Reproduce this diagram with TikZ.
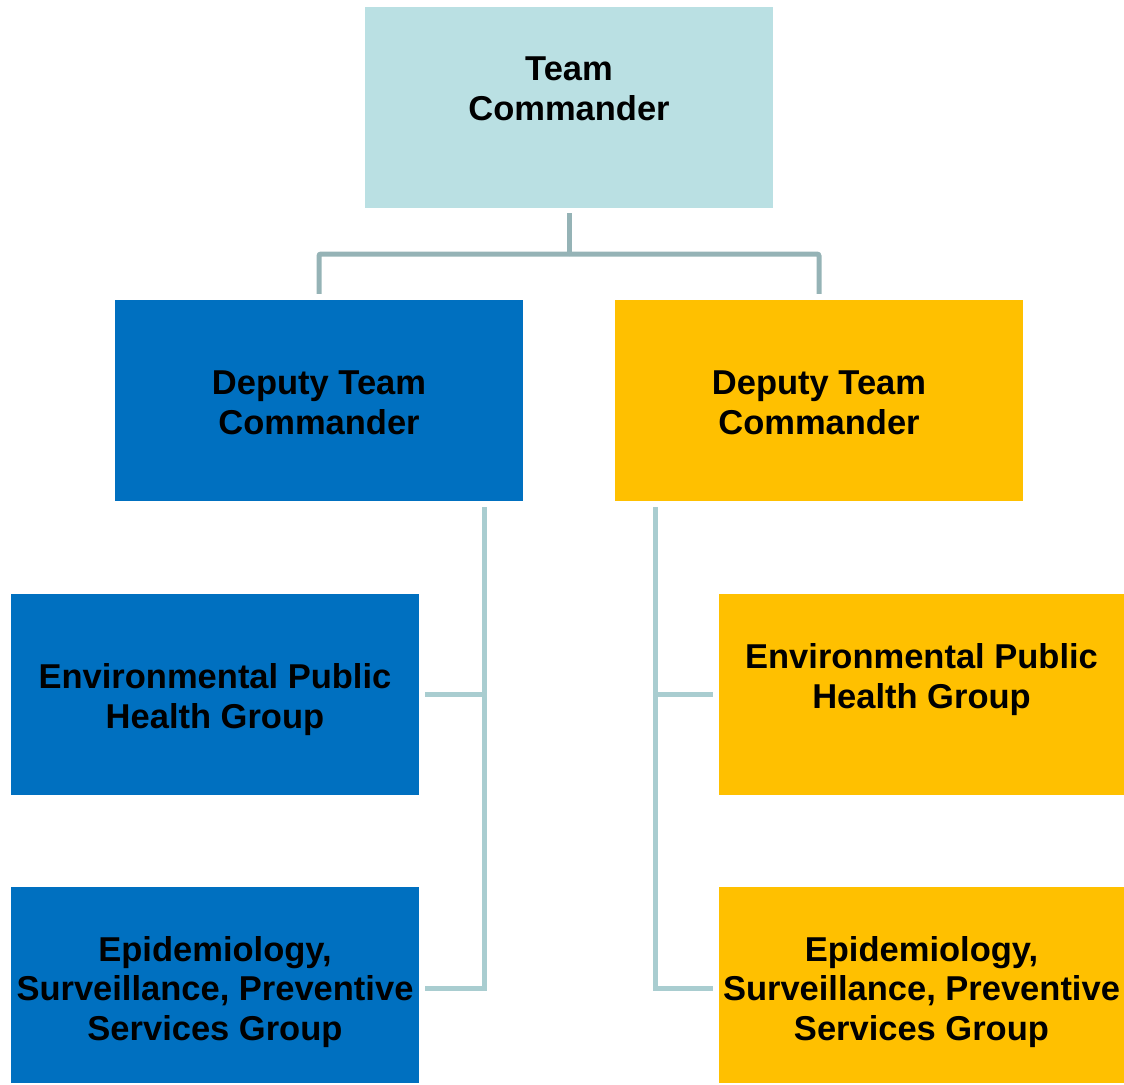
\documentclass[tikz,border=0pt]{standalone}
\usepackage{fontspec}
\setmainfont{Liberation Sans}
\definecolor{tealbox}{HTML}{BAE0E3}
\definecolor{bluebox}{HTML}{0070C0}
\definecolor{goldbox}{HTML}{FFC000}
\definecolor{conntop}{HTML}{95B3B6}
\definecolor{connlow}{HTML}{A9CDD0}
\begin{document}
\begin{tikzpicture}[x=1pt,y=-1pt,
  box/.style={rectangle, draw=none, inner sep=0pt, minimum width=408pt, minimum height=201pt},
  lbl/.style={align=center, font=\fontsize{34.5}{39.5}\selectfont\bfseries, inner sep=0pt, text=black},
  c1/.style={draw=conntop, line width=5pt, rounded corners=2pt},
  c2/.style={draw=connlow, line width=5pt}]
\useasboundingbox (0,0) rectangle (1124,1084);
% boxes
\node[box, fill=tealbox] (tc) at (569,107.5) {};
\node[box, fill=bluebox] (dl) at (319,400.5) {};
\node[box, fill=goldbox] (dr) at (819,400.5) {};
\node[box, fill=bluebox] (el) at (215,694.5) {};
\node[box, fill=goldbox, minimum width=405pt] (er) at (921.5,694.5) {};
\node[box, fill=bluebox, minimum height=196pt] (epl) at (215,985) {};
\node[box, fill=goldbox, minimum width=405pt, minimum height=196pt] (epr) at (921.5,985) {};
% labels
\node[lbl] (tct) at (569,89) {Team\\Commander};
\node[lbl] (dlt) at (319,403) {Deputy Team\\Commander};
\node[lbl] (drt) at (819,403) {Deputy Team\\Commander};
\node[lbl] (elt) at (215,699.5) {Environmental Public\\Health Group};
\node[lbl] (ert) at (921.5,679.5) {Environmental Public\\Health Group};
\node[lbl] (eplt) at (215,992) {Epidemiology,\\Surveillance, Preventive\\Services Group};
\node[lbl] (eprt) at (921.5,992) {Epidemiology,\\Surveillance, Preventive\\Services Group};
% top connector
\coordinate (tj) at (569,254);
\draw[c1] ([yshift=-5pt]tc.south) -- (tj);
\draw[c1] (tj) -| ([yshift=6pt]dl.north);
\draw[c1] (tj) -| ([yshift=6pt]dr.north);
% left branch
\draw[c2] ([xshift=165pt,yshift=-6pt]dl.south) |- ([xshift=6pt,yshift=-3pt]epl.east);
\draw[c2] ([xshift=6pt]el.east) -- ([xshift=65pt]el.east);
% right branch
\draw[c2] ([xshift=-164pt,yshift=-6pt]dr.south) |- ([xshift=-6pt,yshift=-3pt]epr.west);
\draw[c2] ([xshift=-6pt]er.west) -- ([xshift=-64pt]er.west);
\end{tikzpicture}
\end{document}
